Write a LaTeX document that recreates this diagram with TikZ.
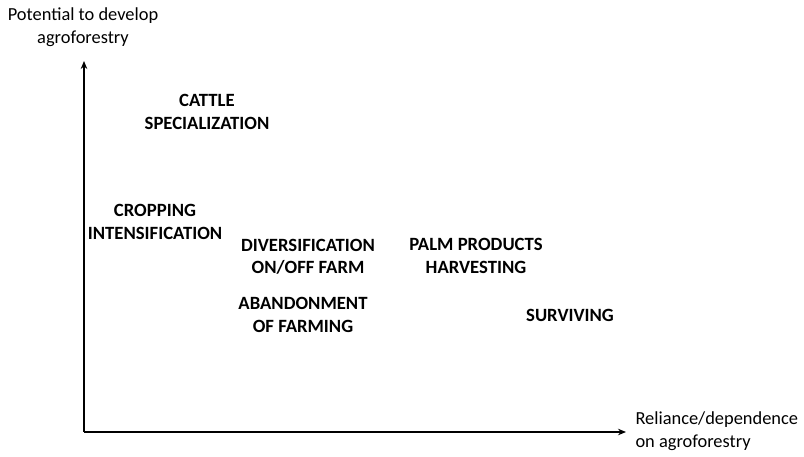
\documentclass[tikz,border=0pt]{standalone}
\usepackage{fontspec}
\setmainfont{Carlito}
\usetikzlibrary{arrows.meta}

\tikzset{
  group/.style={align=center, font=\fontsize{18.7}{22.5}\selectfont\bfseries},
  axislabel/.style={font=\fontsize{18.4}{23}\selectfont},
  axis/.style={line width=1.6pt, -{Stealth[length=8pt,width=6.5pt]}}
}

\begin{document}
\begin{tikzpicture}[x=1pt, y=-1pt]
      \useasboundingbox (0,0) rectangle (804,456);
      % Axes
      \coordinate (origin) at (84,432);
      \coordinate (ytop) at (84,61);
      \coordinate (xend) at (626,432);
      \draw[axis] (origin) -- (ytop);
      \draw[axis] (origin) -- (xend);

      \node[axislabel, align=center] (ylab) at (83,27) {Potential to develop\\agroforestry};
      \node[axislabel, align=left, anchor=west] (xlab) at (632,431) {Reliance/dependence\\on agroforestry};

      % Household strategies
      \node[group] (cattle) at (207,112) {CATTLE\\SPECIALIZATION};
      \node[group] (crop) at (155,222) {CROPPING\\INTENSIFICATION};
      \node[group] (diver) at (308,257) {DIVERSIFICATION\\ON/OFF FARM};
      \node[group] (palm) at (476,256) {PALM PRODUCTS\\HARVESTING};
      \node[group] (aband) at (303,315) {ABANDONMENT\\OF FARMING};
      \node[group] (surv) at (570,315) {SURVIVING};
    \end{tikzpicture}
\end{document}
